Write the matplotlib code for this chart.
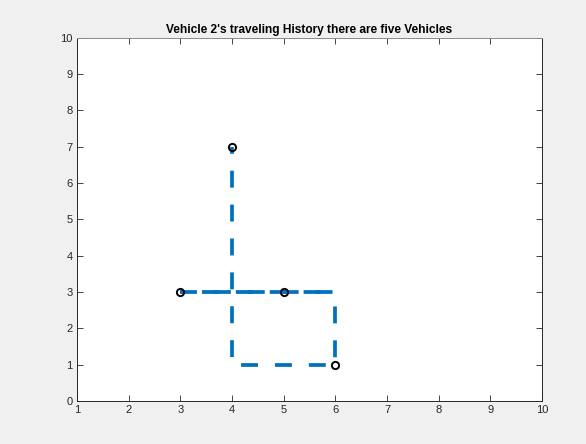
import matplotlib
matplotlib.use("Agg")
import matplotlib.pyplot as plt

plt.rcParams['font.family'] = ['Liberation Sans', 'DejaVu Sans']
plt.rcParams['lines.scale_dashes'] = False

# Data
route_x = [3, 6, 6, 4, 4]
route_y = [3, 3, 1, 1, 7]
overlap_x = [3, 6]
overlap_y = [3, 3]
stop_x = [3, 5, 6, 4]
stop_y = [3, 3, 1, 7]
x_ticks = list(range(1, 11))
y_ticks = list(range(0, 11))
title = "Vehicle 2's traveling History there are five Vehicles"

blue = '#0072BD'
axc = '#262626'

fig = plt.figure(figsize=(5.86, 4.44), dpi=100, facecolor='#f0f0f0')
ax = fig.add_axes([0.1314, 0.097, 0.7935, 0.8185])
ax.set_facecolor('white')

on = 12.2
off = 12.2
ax.plot(route_x, route_y, color=blue, lw=2.7, linestyle=(0, (on, off)), dash_capstyle='butt', zorder=2)
ax.plot(overlap_x, overlap_y, color=blue, lw=2.7, linestyle=(8.6, (on, off)), dash_capstyle='butt', zorder=2)
ax.plot(stop_x, stop_y, linestyle='none', marker='o', markersize=5.2, markerfacecolor='none',
        markeredgecolor='black', markeredgewidth=1.4, zorder=3)

ax.set_xlim(1, 10)
ax.set_ylim(0, 10)
ax.set_xticks(x_ticks)
ax.set_yticks(y_ticks)
ax.tick_params(direction='in', length=4, width=0.6, colors=axc, labelsize=8,
               top=True, right=True, pad=3)
for s in ax.spines.values():
    s.set_color(axc)
    s.set_linewidth(0.7)
ax.spines['top'].set_color('#8a8a8a')

ax.set_title(title, fontsize=8.6, fontweight='bold', color='black', pad=3.5)

fig.savefig('out.png', dpi=100, facecolor=fig.get_facecolor())
